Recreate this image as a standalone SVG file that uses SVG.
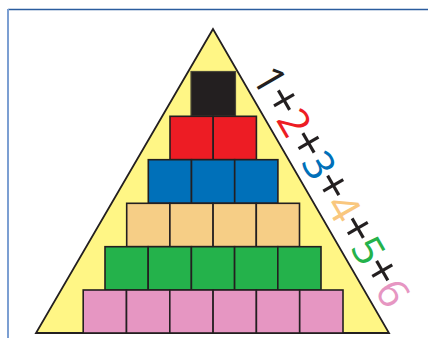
<svg xmlns="http://www.w3.org/2000/svg" width="428" height="338" viewBox="0 0 428 338">
<style>
.b{stroke:#231f20;stroke-width:1.6}
.k{fill:#231f20}.r{fill:#ed1c24}.u{fill:#0070b9}.t{fill:#f6ce86}.g{fill:#24b24b}.p{fill:#e696c2}
.lbl{font-family:"Open Sans","Liberation Sans",Arial,sans-serif;font-size:42px;font-weight:400}
.pl{fill:#231f20;font-size:48px}
</style>
<rect width="428" height="338" fill="#ffffff"/>
<g id="frame">
<line x1="8" y1="9.5" x2="428" y2="9.5" stroke="#2b5c9e" stroke-width="1.5"/>
<line x1="8" y1="9" x2="8" y2="338" stroke="#7c9fd2" stroke-width="2"/>
</g>
<g id="triangle">
<polygon points="213,29 36,333 389,333" fill="#fff685" stroke="#231f20" stroke-width="1.8" stroke-linejoin="miter"/>
</g>
<g id="row1">
<rect class="k" x="191" y="71.5" width="44.5" height="44.5" stroke="#4a4838" stroke-width="1.2"/>
</g>
<g id="row2" class="b">
<rect class="r" x="170" y="116.3" width="43.2" height="43.4"/>
<rect class="r" x="213.2" y="116.3" width="43.2" height="43.4"/>
</g>
<g id="row3" class="b">
<rect class="u" x="148.3" y="159.7" width="43.2" height="43.6"/>
<rect class="u" x="191.5" y="159.7" width="43.2" height="43.6"/>
<rect class="u" x="234.7" y="159.7" width="43.2" height="43.6"/>
</g>
<g id="row4" class="b">
<rect class="t" x="126.7" y="203.3" width="43.2" height="43.4"/>
<rect class="t" x="169.9" y="203.3" width="43.2" height="43.4"/>
<rect class="t" x="213.1" y="203.3" width="43.2" height="43.4"/>
<rect class="t" x="256.3" y="203.3" width="43.2" height="43.4"/>
</g>
<g id="row5" class="b">
<rect class="g" x="105" y="246.7" width="43.2" height="43.4"/>
<rect class="g" x="148.2" y="246.7" width="43.2" height="43.4"/>
<rect class="g" x="191.4" y="246.7" width="43.2" height="43.4"/>
<rect class="g" x="234.6" y="246.7" width="43.2" height="43.4"/>
<rect class="g" x="277.8" y="246.7" width="43.2" height="43.4"/>
</g>
<g id="row6" class="b">
<rect class="p" x="83.2" y="290" width="43.3" height="43"/>
<rect class="p" x="126.5" y="290" width="43.3" height="43"/>
<rect class="p" x="169.8" y="290" width="43.3" height="43"/>
<rect class="p" x="213.1" y="290" width="43.3" height="43"/>
<rect class="p" x="256.4" y="290" width="43.3" height="43"/>
<rect class="p" x="299.7" y="290" width="43.3" height="43"/>
</g>
<g id="sum">
<text class="lbl" transform="translate(251,77) rotate(60)" textLength="270" lengthAdjust="spacing"><tspan fill="#231f20">1</tspan><tspan class="pl">+</tspan><tspan fill="#ed1c24">2</tspan><tspan class="pl">+</tspan><tspan fill="#0070b9">3</tspan><tspan class="pl">+</tspan><tspan fill="#f9c77e">4</tspan><tspan class="pl">+</tspan><tspan fill="#24b24b">5</tspan><tspan class="pl">+</tspan><tspan fill="#e696c2">6</tspan></text>
</g>
</svg>
